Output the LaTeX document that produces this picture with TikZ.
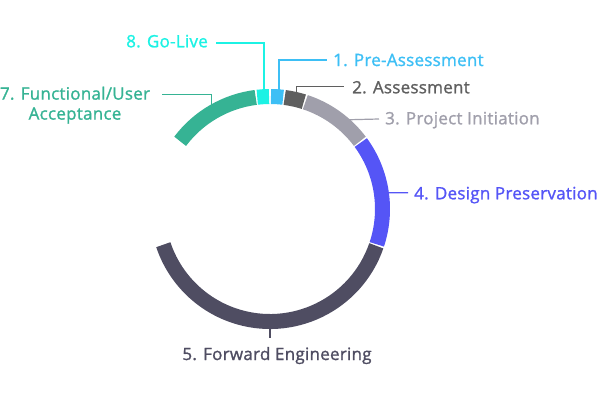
\documentclass[tikz,border=0pt]{standalone}
\usepackage{fontspec}
\setmainfont{Open Sans}[FakeBold=1.3,LetterSpace=1.5]
\definecolor{cgolive}{HTML}{1CF2E4}
\definecolor{cpre}{HTML}{3DBFF5}
\definecolor{cass}{HTML}{5F5F5F}
\definecolor{cproj}{HTML}{A09FAB}
\definecolor{cdes}{HTML}{5555F6}
\definecolor{cfwd}{HTML}{4F4D62}
\definecolor{cfun}{HTML}{36B394}
\begin{document}
\begin{tikzpicture}[x=1pt,y=1pt,
  seg/.style={line width=15pt},
  lead/.style={line width=1.2pt},
  lbl/.style={inner sep=0pt,font=\fontsize{17}{20}\selectfont}]
\useasboundingbox (0,0) rectangle (600,400);
\coordinate (C) at (270,191);
% ring segments
\draw[seg,cgolive] (C) ++(96.5:112.5) arc[start angle=96.5,end angle=90.5,radius=112.5];
\draw[seg,cpre] (C) ++(89.5:112.5) arc[start angle=89.5,end angle=83.3,radius=112.5];
\draw[seg,cass] (C) ++(82.5:112.5) arc[start angle=82.5,end angle=72.5,radius=112.5];
\draw[seg,cproj] (C) ++(71.7:112.5) arc[start angle=71.7,end angle=37,radius=112.5];
\draw[seg,cdes] (C) ++(36.2:112.5) arc[start angle=36.2,end angle=-18.3,radius=112.5];
\draw[seg,cfwd] (C) ++(-19.1:112.5) arc[start angle=-19.1,end angle=-161.5,radius=112.5];
\draw[seg,cfun] (C) ++(143:112.5) arc[start angle=143,end angle=97.3,radius=112.5];
% ring anchor points
\path (C) ++(92.9:119) coordinate (p8);
\path (C) ++(85.7:119) coordinate (p1);
\path (C) ++(77:119) coordinate (p2);
\path (C) ++(48.6:119) coordinate (p3);
\path (C) ++(7.8:119) coordinate (p4);
\path (C) ++(-90:119) coordinate (p5);
\path (C) ++(119.4:119) coordinate (p7);
% leader ends
\coordinate (q8) at (216,357);
\coordinate (q1) at (327,340);
\coordinate (q2) at (344,313.3);
\coordinate (q3) at (379,281);
\coordinate (q4) at (408,207.3);
\coordinate (q5) at (270,61.7);
\coordinate (q7) at (162,305.7);
% labels
\node[lbl,anchor=base east,text=cgolive] (t8) at (208,352.7) {8. Go-Live};
\node[lbl,anchor=base west,text=cpre] (t1) at (333,334) {1. Pre-Assessment};
\node[lbl,anchor=base west,text=cass] (t2) at (352,306.7) {2. Assessment};
\node[lbl,anchor=base west,text=cproj] (t3) at (385,275.7) {3. Project Initiation};
\node[lbl,anchor=base west,text=cdes] (t4) at (414,200.7) {4. Design Preservation};
\node[lbl,anchor=base,text=cfwd] (t5) at (277,40) {5. Forward Engineering};
\node[lbl,anchor=north,align=center,text=cfun] (t7) at (75,313.5) {7. Functional/User\\Acceptance};
% leaders
\draw[lead,cgolive] (q8) -| (p8);
\draw[lead,cpre] (p1) |- (q1);
\draw[lead,cass] (p2) |- (q2);
\draw[lead,cproj] (p3) -- (q3);
\draw[lead,cdes] (p4) -- (q4);
\draw[lead,cfwd] (p5) -- (q5);
\draw[lead,cfun] (q7) -| (p7);
\end{tikzpicture}
\end{document}
